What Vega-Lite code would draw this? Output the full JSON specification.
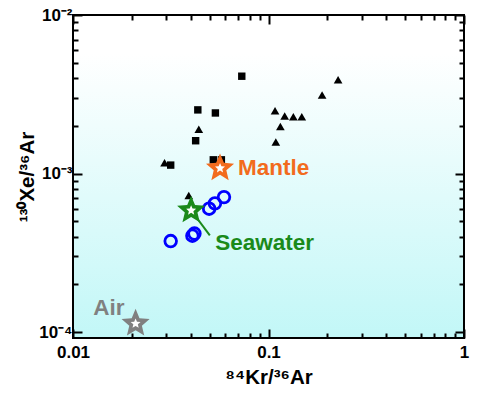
{
  "$schema": "https://vega.github.io/schema/vega-lite/v6.json",
  "width": 391,
  "height": 323,
  "autosize": {"type": "none"},
  "padding": {"left": 73, "top": 15, "right": 16, "bottom": 59},
  "background": "white",
  "config": {
    "view": {
      "stroke": "black",
      "strokeWidth": 2,
      "fill": {"gradient": "linear", "x1": 0, "y1": 0, "x2": 0, "y2": 1,
        "stops": [{"offset": 0, "color": "#ffffff"}, {"offset": 0.12, "color": "#ffffff"}, {"offset": 1, "color": "#c2f7f7"}]}
    },
    "font": "Liberation Sans",
    "axis": {"grid": false, "domain": false, "tickColor": "black", "tickWidth": 2, "zindex": 1, "labelFlush": false, "labelOverlap": false,
      "labelFont": "Liberation Sans", "labelFontWeight": "bold", "labelFontSize": 17, "labelColor": "black",
      "titleFont": "Liberation Sans", "titleFontWeight": "bold", "titleFontSize": 20.5, "titleColor": "black"}
  },
  "datasets": {
    "pts": [
      {"kind": "square", "kr": 0.073, "xe": 0.00411},
      {"kind": "square", "kr": 0.0435, "xe": 0.00252},
      {"kind": "square", "kr": 0.0535, "xe": 0.00241},
      {"kind": "square", "kr": 0.0424, "xe": 0.00161},
      {"kind": "square", "kr": 0.0522, "xe": 0.00122},
      {"kind": "square", "kr": 0.0574, "xe": 0.00122},
      {"kind": "square", "kr": 0.0316, "xe": 0.00113},
      {"kind": "triangle", "kr": 0.227, "xe": 0.0039},
      {"kind": "triangle", "kr": 0.188, "xe": 0.00313},
      {"kind": "triangle", "kr": 0.108, "xe": 0.00249},
      {"kind": "triangle", "kr": 0.121, "xe": 0.00231},
      {"kind": "triangle", "kr": 0.134, "xe": 0.00228},
      {"kind": "triangle", "kr": 0.148, "xe": 0.00228},
      {"kind": "triangle", "kr": 0.115, "xe": 0.00198},
      {"kind": "triangle", "kr": 0.109, "xe": 0.00158},
      {"kind": "triangle", "kr": 0.044, "xe": 0.0019},
      {"kind": "triangle", "kr": 0.0294, "xe": 0.00117},
      {"kind": "triangle", "kr": 0.0391, "xe": 0.000727},
      {"kind": "circle", "kr": 0.0316, "xe": 0.000375},
      {"kind": "circle", "kr": 0.0408, "xe": 0.000405},
      {"kind": "circle", "kr": 0.0418, "xe": 0.000418},
      {"kind": "circle", "kr": 0.0497, "xe": 0.0006},
      {"kind": "circle", "kr": 0.0532, "xe": 0.000648},
      {"kind": "circle", "kr": 0.0592, "xe": 0.00071}
    ],
    "stars": [
      {"name": "Mantle", "kr": 0.0565, "xe": 0.00108},
      {"name": "Seawater", "kr": 0.0402, "xe": 0.000585},
      {"name": "Air", "kr": 0.0209, "xe": 0.000113}
    ],
    "line": [
      {"kr": 0.0402, "xe": 0.000585, "kr2": 0.0501, "xe2": 0.000407}
    ]
  },
  "resolve": {"axis": {"x": "independent", "y": "independent"}},
  "layer": [
    {
      "data": {"name": "pts"},
      "transform": [{"filter": "datum.kind === 'square'"}],
      "mark": {"type": "point", "shape": "square", "filled": true, "color": "black", "opacity": 1, "size": 55},
      "encoding": {
        "x": {"field": "kr", "type": "quantitative",
          "scale": {"type": "log", "domain": [0.01, 1], "nice": false},
          "title": "⁸⁴Kr/³⁶Ar",
          "axis": {"orient": "bottom", "values": [0.01, 0.1, 1], "format": "~g", "tickSize": -9,
            "labelPadding": 15, "titlePadding": 7}},
        "y": {"field": "xe", "type": "quantitative",
          "scale": {"type": "log", "domain": [0.0000917, 0.01], "nice": false},
          "title": "¹³⁰Xe/³⁶Ar",
          "axis": {"orient": "left", "values": [0.0001, 0.001, 0.01], "tickSize": -9,
            "labelExpr": "round(log(datum.value)/LN10) == -2 ? '10⁻²' : (round(log(datum.value)/LN10) == -3 ? '10⁻³' : '10⁻⁴')",
            "labelPadding": 10, "titlePadding": 1}}
      }
    },
    {
      "data": {"name": "pts"},
      "transform": [{"filter": "datum.kind === 'triangle'"}],
      "mark": {"type": "point", "shape": "triangle-up", "filled": true, "color": "black", "opacity": 1, "size": 75},
      "encoding": {
        "x": {"field": "kr", "type": "quantitative",
          "axis": {"orient": "bottom", "labels": false, "title": null, "tickSize": -5,
            "values": [0.02, 0.03, 0.04, 0.05, 0.06, 0.07, 0.08, 0.09, 0.2, 0.3, 0.4, 0.5, 0.6, 0.7, 0.8, 0.9]}},
        "y": {"field": "xe", "type": "quantitative",
          "axis": {"orient": "left", "labels": false, "title": null, "tickSize": -5,
            "values": [0.0002, 0.0003, 0.0004, 0.0005, 0.0006, 0.0007, 0.0008, 0.0009, 0.002, 0.003, 0.004, 0.005, 0.006, 0.007, 0.008, 0.009]}}
      }
    },
    {
      "data": {"name": "pts"},
      "transform": [{"filter": "datum.kind === 'circle'"}],
      "mark": {"type": "point", "shape": "circle", "filled": false, "color": "#0000ff", "opacity": 1, "strokeWidth": 2.8, "size": 135},
      "encoding": {
        "x": {"field": "kr", "type": "quantitative",
          "axis": {"orient": "top", "labels": false, "title": null, "tickSize": -9, "values": [0.01, 0.1, 1]}},
        "y": {"field": "xe", "type": "quantitative",
          "axis": {"orient": "right", "labels": false, "title": null, "tickSize": -9, "values": [0.0001, 0.001, 0.01]}}
      }
    },
    {
      "data": {"name": "line"},
      "mark": {"type": "rule", "color": "#1a8a1a", "strokeWidth": 2},
      "encoding": {
        "x": {"field": "kr", "type": "quantitative",
          "axis": {"orient": "top", "labels": false, "title": null, "tickSize": -5,
            "values": [0.02, 0.03, 0.04, 0.05, 0.06, 0.07, 0.08, 0.09, 0.2, 0.3, 0.4, 0.5, 0.6, 0.7, 0.8, 0.9]}},
        "y": {"field": "xe", "type": "quantitative",
          "axis": {"orient": "right", "labels": false, "title": null, "tickSize": -5,
            "values": [0.0002, 0.0003, 0.0004, 0.0005, 0.0006, 0.0007, 0.0008, 0.0009, 0.002, 0.003, 0.004, 0.005, 0.006, 0.007, 0.008, 0.009]}},
        "x2": {"field": "kr2"},
        "y2": {"field": "xe2"}
      }
    },
    {
      "data": {"name": "stars"},
      "mark": {"type": "point", "shape": "M0,-1L0.2645,-0.3641L0.9511,-0.309L0.428,0.1391L0.5878,0.809L0,0.45L-0.5878,0.809L-0.428,0.1391L-0.9511,-0.309L-0.2645,-0.3641Z", "filled": true, "opacity": 1, "size": 870},
      "encoding": {
        "x": {"field": "kr", "type": "quantitative", "axis": null},
        "y": {"field": "xe", "type": "quantitative", "axis": null},
        "color": {"field": "name", "type": "nominal", "legend": null,
          "scale": {"domain": ["Mantle", "Seawater", "Air"], "range": ["#f26b1d", "#1a8a1a", "#808080"]}}
      }
    },
    {
      "data": {"name": "stars"},
      "mark": {"type": "point", "shape": "M0,-1L0.2645,-0.3641L0.9511,-0.309L0.428,0.1391L0.5878,0.809L0,0.45L-0.5878,0.809L-0.428,0.1391L-0.9511,-0.309L-0.2645,-0.3641Z", "filled": true, "color": "white", "opacity": 1, "size": 110},
      "encoding": {
        "x": {"field": "kr", "type": "quantitative", "axis": null},
        "y": {"field": "xe", "type": "quantitative", "axis": null}
      }
    },
    {
      "data": {"name": "stars"},
      "transform": [{"filter": "datum.name === 'Mantle'"}],
      "mark": {"type": "text", "align": "left", "baseline": "middle", "dx": 18, "dy": 0, "fontSize": 22.5, "fontWeight": "bold", "font": "Liberation Sans", "color": "#f26b1d"},
      "encoding": {
        "x": {"field": "kr", "type": "quantitative", "axis": null},
        "y": {"field": "xe", "type": "quantitative", "axis": null},
        "text": {"field": "name"}
      }
    },
    {
      "data": {"name": "stars"},
      "transform": [{"filter": "datum.name === 'Seawater'"}],
      "mark": {"type": "text", "align": "left", "baseline": "middle", "dx": 24, "dy": 33, "fontSize": 22.5, "fontWeight": "bold", "font": "Liberation Sans", "color": "#1a8a1a"},
      "encoding": {
        "x": {"field": "kr", "type": "quantitative", "axis": null},
        "y": {"field": "xe", "type": "quantitative", "axis": null},
        "text": {"field": "name"}
      }
    },
    {
      "data": {"name": "stars"},
      "transform": [{"filter": "datum.name === 'Air'"}],
      "mark": {"type": "text", "align": "right", "baseline": "middle", "dx": -11, "dy": -16, "fontSize": 22.5, "fontWeight": "bold", "font": "Liberation Sans", "color": "#808080"},
      "encoding": {
        "x": {"field": "kr", "type": "quantitative", "axis": null},
        "y": {"field": "xe", "type": "quantitative", "axis": null},
        "text": {"field": "name"}
      }
    }
  ]
}
